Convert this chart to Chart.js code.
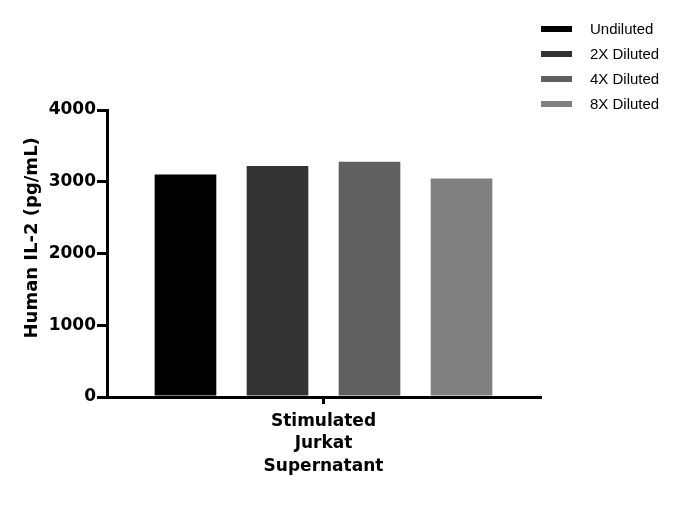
<!DOCTYPE html>
<html>
<head>
<meta charset="utf-8">
<script src="https://cdn.jsdelivr.net/npm/chart.js@4.4.1/dist/chart.umd.min.js"></script>
<style>
  html, body { margin: 0; padding: 0; background: #fff; }
  #wrap { width: 683px; height: 507px; position: relative; }
</style>
</head>
<body>
<div id="wrap"><canvas id="chart"></canvas></div>
<script>
const categories = [["Stimulated", "Jurkat", "Supernatant"]]
const seriesNames = ["Undiluted", "2X Diluted", "4X Diluted", "8X Diluted"]
const seriesValues = [[3100], [3220], [3280], [3045]]
const seriesColors = ["#000000", "#333333", "#606060", "#808080"]
const yTicks = [0, 1000, 2000, 3000, 4000]

const axisFont = { family: "DejaVu Sans", size: 17, weight: "bold" }

// legend drawn as thick dashes to the upper right, like the original figure
const sideLegend = {
  id: "sideLegend",
  afterDraw(chart) {
    const ctx = chart.ctx
    ctx.save()
    ctx.font = "15px 'Liberation Sans'"
    ctx.textBaseline = "middle"
    chart.data.datasets.forEach((ds, i) => {
      const y = 29 + i * 25
      ctx.fillStyle = ds.backgroundColor
      ctx.fillRect(541, y - 3, 31, 6)
      ctx.fillStyle = "#000"
      ctx.fillText(ds.label, 590, y + 1)
    })
    ctx.restore()
  }
}

new Chart(document.getElementById("chart"), {
  type: "bar",
  data: {
    labels: categories,
    datasets: seriesNames.map((name, i) => ({
      label: name,
      data: seriesValues[i],
      backgroundColor: seriesColors[i],
      categoryPercentage: 0.85,
      barPercentage: 0.67
    }))
  },
  plugins: [sideLegend],
  options: {
    responsive: true,
    maintainAspectRatio: false,
    animation: false,
    layout: { padding: { top: 110, right: 143, left: 22, bottom: 0 } },
    plugins: {
      legend: { display: false },
      tooltip: { enabled: false }
    },
    scales: {
      x: {
        grid: {
          offset: false,
          drawOnChartArea: false,
          tickLength: 7,
          lineWidth: 3,
          color: "#000"
        },
        border: { display: true, width: 3, color: "#000" },
        ticks: {
          color: "#000",
          font: { ...axisFont, lineHeight: 1.32 },
          padding: 6,
          maxRotation: 0
        },
        afterFit(scale) { scale.height = 110 }
      },
      y: {
        min: 0,
        max: 4000,
        afterBuildTicks(scale) { scale.ticks = yTicks.map(v => ({ value: v })) },
        grid: {
          drawOnChartArea: false,
          tickLength: 10,
          lineWidth: 3,
          color: "#000"
        },
        border: { display: true, width: 3, color: "#000" },
        ticks: { color: "#000", font: axisFont, padding: 1, callback: v => String(v) },
        title: {
          display: true,
          // leading spaces nudge the rotated title up a bit, as in the original
          text: "     Human IL-2 (pg/mL)",
          color: "#000",
          font: { family: "DejaVu Sans", size: 18, weight: "bold" },
          padding: { top: 0, bottom: 0 }
        },
        afterFit(scale) { scale.width = 85 }
      }
    }
  }
})
</script>
</body>
</html>
